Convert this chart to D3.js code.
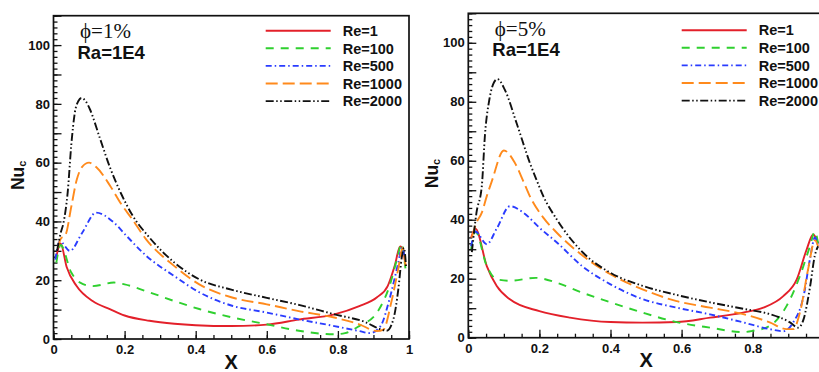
<!DOCTYPE html>
<html>
<head>
<meta charset="utf-8">
<script src="https://cdn.jsdelivr.net/npm/d3@7"></script>
<style>
  body { margin: 0; background: #fff; }
  svg { display: block; }
  text { font-family: "Liberation Sans", Arial, sans-serif; font-weight: bold; fill: #111; }
</style>
</head>
<body>
<svg id="chart" width="819" height="372"></svg>
<script>
// ---- data -------------------------------------------------------------
const seriesNames = ["Re=1", "Re=100", "Re=500", "Re=1000", "Re=2000"];
const panelTitles = ["\u03D5=1%", "\u03D5=5%"];
const rayleighLabel = "Ra=1E4";
const xTickValues = [0, 0.2, 0.4, 0.6, 0.8, 1];
const yTickValues = [0, 20, 40, 60, 80, 100];

// phi = 1 %
const x_re1_phi1 = [0.008,0.02,0.037,0.065,0.11,0.16,0.2,0.27,0.34,0.4,0.5,0.6,0.69,0.79,0.86,0.91,0.94,0.96,0.975,0.984,0.99];
const nu_re1_phi1 = [28,32.5,24.5,18,12.9,10.1,8,6.2,5.2,4.7,4.4,4.9,6.6,8.4,11.2,14.2,18,25,31.5,30,25];
const x_re100_phi1 = [0.008,0.02,0.05,0.075,0.11,0.17,0.2,0.26,0.34,0.41,0.5,0.6,0.69,0.79,0.82,0.86,0.91,0.945,0.97,0.978,0.99];
const nu_re100_phi1 = [26,32,22.6,19.2,18,19.2,18.6,16.3,12.9,10.2,7.4,5.0,2.8,1.6,2.0,4.4,9,18,29,32.5,24];
const x_re500_phi1 = [0.005,0.018,0.046,0.08,0.12,0.17,0.206,0.26,0.34,0.41,0.5,0.6,0.69,0.79,0.86,0.89,0.92,0.945,0.97,0.98,0.99];
const nu_re500_phi1 = [27,33.3,30,36,43,39.6,35,28.4,21.4,15.9,11.4,9,6.7,4.4,2.7,2.0,4.4,13.5,26,31,26];
const x_re1000_phi1 = [0.012,0.02,0.034,0.05,0.065,0.08,0.1,0.12,0.16,0.19,0.22,0.26,0.34,0.41,0.5,0.6,0.69,0.79,0.86,0.91,0.928,0.95,0.97,0.982,0.99];
const nu_re1000_phi1 = [31,34,35.5,45,54,58.5,60,58.5,52,46,41,34,24.8,18.6,14.2,11.8,9.5,7.3,5,2.7,3.2,12.4,24,31,25];
const x_re2000_phi1 = [0.01,0.02,0.028,0.04,0.05,0.06,0.07,0.079,0.09,0.103,0.13,0.16,0.19,0.22,0.27,0.34,0.41,0.5,0.6,0.69,0.79,0.88,0.92,0.937,0.956,0.97,0.98,0.986,0.992];
const nu_re2000_phi1 = [30,36,39.5,50,66,77,81,82,81,78,68.5,58,49.5,42.5,34.5,26,20.3,16.8,14,11.6,8.4,5.6,3.3,2.8,6.7,17,28,31,24];

// phi = 5 %
const x_re1_phi5 = [0.008,0.02,0.052,0.08,0.117,0.2,0.286,0.4,0.49,0.586,0.68,0.773,0.83,0.886,0.924,0.952,0.97,0.984];
const nu_re1_phi5 = [34,37,24.3,17.5,13,9,6.8,5.3,5.1,5.3,6.8,8.5,10.2,14.1,19.8,30,35,32];
const x_re100_phi5 = [0.008,0.02,0.052,0.08,0.117,0.19,0.25,0.32,0.4,0.49,0.586,0.68,0.773,0.8,0.848,0.895,0.933,0.961,0.975,0.984];
const nu_re100_phi5 = [30,36,24.3,19.8,19.3,20.3,18.6,15.3,12,8.5,5.3,3.4,1.9,2.3,4,10.7,21,31,36,32];
const x_re500_phi5 = [0.008,0.02,0.052,0.08,0.117,0.155,0.2,0.25,0.32,0.4,0.49,0.586,0.68,0.773,0.848,0.886,0.914,0.943,0.961,0.975,0.984];
const nu_re500_phi5 = [31,36,31.7,37,44.6,42.4,37.3,32.2,24.3,18.1,13.1,10.2,7.9,5.2,2.9,2.2,5.2,14,26.6,34,31];
const x_re1000_phi5 = [0.01,0.023,0.038,0.052,0.066,0.1,0.13,0.155,0.173,0.211,0.249,0.323,0.4,0.49,0.586,0.68,0.773,0.848,0.895,0.914,0.933,0.956,0.975,0.984];
const nu_re1000_phi5 = [34,39,42.4,48,53,63.5,59.5,53,48,40.7,35.6,27.7,21.5,16.4,12.4,10.2,8,5.2,2.9,2.9,8.6,23.3,33,31];
const x_re2000_phi5 = [0.01,0.023,0.038,0.047,0.059,0.07,0.082,0.103,0.136,0.174,0.192,0.211,0.249,0.323,0.4,0.49,0.586,0.68,0.773,0.848,0.905,0.928,0.943,0.961,0.975,0.984];
const nu_re2000_phi5 = [29,42.4,51.4,69,80.6,86,87.7,84,72.7,59,53.5,48,40.1,28.8,22,17.6,14.5,12,9.8,8,5.2,3.4,6.2,17,28,31];

// ---- styling ------------------------------------------------------------
const seriesColors = ["#e3202a", "#2fd02f", "#2a3cff", "#ff8a1c", "#111111"];
const seriesDashes = ["none", "8,7", "6,3,1.5,3", "12,5", "8,2.5,1.5,2.5,1.5,2.5"];
const pageWidth = 819;

const panels = [
  { title: panelTitles[0], xs: [x_re1_phi1, x_re100_phi1, x_re500_phi1, x_re1000_phi1, x_re2000_phi1],
    ys: [nu_re1_phi1, nu_re100_phi1, nu_re500_phi1, nu_re1000_phi1, nu_re2000_phi1],
    left: 53.5, right: 409, top: 15.7, bottom: 339, legendX: 265.7, legendY: 30.7 },
  { title: panelTitles[1], xs: [x_re1_phi5, x_re100_phi5, x_re500_phi5, x_re1000_phi5, x_re2000_phi5],
    ys: [nu_re1_phi5, nu_re100_phi5, nu_re500_phi5, nu_re1000_phi5, nu_re2000_phi5],
    left: 468.3, right: 823.8, top: 13.3, bottom: 337.7, legendX: 681.7, legendY: 30.2 }
];

const svg = d3.select("#chart");
const fmtX = d => (d === 0 ? "0" : d === 1 ? "1" : d3.format(".1f")(d));

panels.forEach((p, pi) => {
  const x = d3.scaleLinear().domain([0, 1]).range([p.left, p.right]);
  const y = d3.scaleLinear().domain([0, 110]).range([p.bottom, p.top]);
  const g = svg.append("g");

  // clip region for the curves
  const clipId = "clip" + pi;
  svg.append("clipPath").attr("id", clipId).append("rect")
    .attr("x", p.left).attr("y", p.top)
    .attr("width", p.right - p.left).attr("height", p.bottom - p.top);

  // minor ticks (inward)
  g.append("g").attr("transform", `translate(0,${p.bottom})`)
    .call(d3.axisBottom(x).tickValues(d3.range(0, 1.0001, 0.05)).tickSize(-4).tickFormat(""))
    .call(a => a.select(".domain").remove());
  g.append("g").attr("transform", `translate(${p.left},0)`)
    .call(d3.axisLeft(y).tickValues(d3.range(0, 110.001, 2)).tickSize(-4).tickFormat(""))
    .call(a => a.select(".domain").remove());

  // major ticks with labels (labels that fall past the page edge are left out)
  const visibleX = xTickValues.filter(v => x(v) < pageWidth - 4);
  g.append("g").attr("class", "xaxis").attr("transform", `translate(0,${p.bottom})`)
    .call(d3.axisBottom(x).tickValues(xTickValues).tickSize(-8).tickPadding(6)
      .tickFormat(d => visibleX.includes(d) ? fmtX(d) : ""))
    .call(a => a.select(".domain").remove());
  g.append("g").attr("class", "yaxis").attr("transform", `translate(${p.left},0)`)
    .call(d3.axisLeft(y).tickValues(d3.range(0, 110.001, 10)).tickSize(-8).tickPadding(3.5)
      .tickFormat(d => yTickValues.includes(d) ? d : ""))
    .call(a => a.select(".domain").remove());

  g.selectAll(".tick line").attr("stroke", "#111").attr("stroke-width", 1.3);
  g.selectAll(".tick text").style("font-size", "13px").style("font-family", "'Liberation Sans', Arial, sans-serif")
    .style("font-weight", "bold").attr("fill", "#111");

  // curves
  const line = d3.line().x(d => x(d[0])).y(d => y(d[1])).curve(d3.curveMonotoneX);
  const curves = g.append("g").attr("clip-path", `url(#${clipId})`);
  p.xs.forEach((xsArr, si) => {
    const pts = xsArr.map((v, i) => [v, p.ys[si][i]]);
    curves.append("path").datum(pts).attr("d", line)
      .attr("fill", "none").attr("stroke", seriesColors[si]).attr("stroke-width", 1.9)
      .attr("stroke-dasharray", seriesDashes[si]).attr("stroke-linejoin", "round");
  });

  // frame
  g.append("rect").attr("x", p.left).attr("y", p.top)
    .attr("width", p.right - p.left).attr("height", p.bottom - p.top)
    .attr("fill", "none").attr("stroke", "#111").attr("stroke-width", 1.7);

  // legend
  const lg = g.append("g");
  seriesNames.forEach((name, si) => {
    const ly = p.legendY + si * 17.6;
    lg.append("line").attr("x1", p.legendX).attr("x2", p.legendX + 65)
      .attr("y1", ly).attr("y2", ly)
      .attr("stroke", seriesColors[si]).attr("stroke-width", 1.9)
      .attr("stroke-dasharray", seriesDashes[si]);
    lg.append("text").attr("x", p.legendX + 77).attr("y", ly + 5.2)
      .style("font-size", "14.5px").text(name);
  });

  // annotations
  g.append("text").attr("x", p.left + 26.5).attr("y", p.top + 22.5)
    .style("font-family", "'Liberation Serif', 'DejaVu Serif', serif").style("font-weight", "normal")
    .style("font-size", "21px").text(p.title);
  g.append("text").attr("x", p.left + 24).attr("y", p.top + 42.8)
    .style("font-size", "18.5px").text(rayleighLabel);

  // axis titles
  g.append("text").attr("x", (p.left + p.right) / 2).attr("y", p.bottom + 29.5)
    .attr("text-anchor", "middle").style("font-size", "20px").text("X");
  const yl = g.append("text")
    .attr("transform", `translate(${p.left - 30},${(p.top + p.bottom) / 2 - 2}) rotate(-90)`)
    .attr("text-anchor", "middle").style("font-size", "17.5px");
  yl.append("tspan").text("Nu");
  yl.append("tspan").attr("dy", 2).style("font-size", "11px").text("c");
});
</script>
</body>
</html>
